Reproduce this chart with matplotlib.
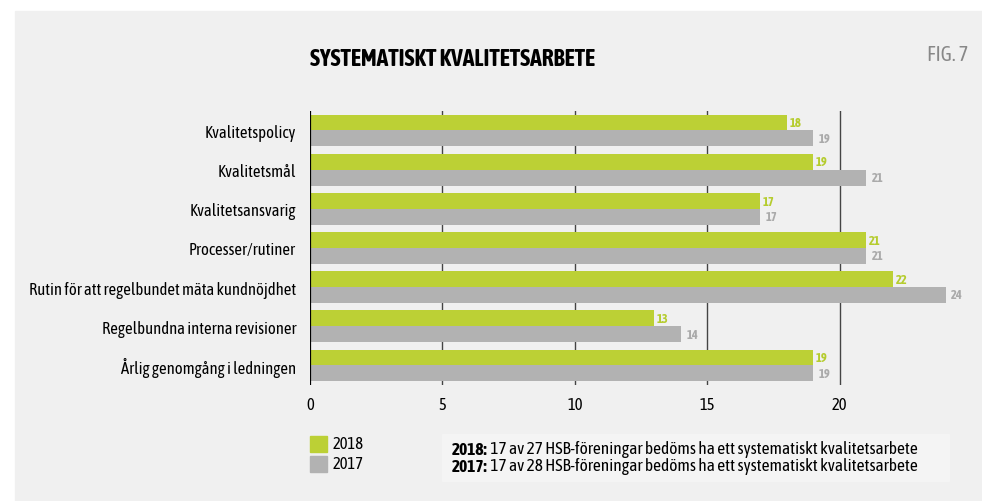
import matplotlib
matplotlib.use("Agg")
import matplotlib.pyplot as plt
from matplotlib.patches import Rectangle
from matplotlib import font_manager
import numpy as np

# data
categories = ["Kvalitetspolicy", "Kvalitetsmål", "Kvalitetsansvarig", "Processer/rutiner",
              "Rutin för att regelbundet mäta kundnöjdhet", "Regelbundna interna revisioner",
              "Årlig genomgång i ledningen"]
v2018 = [18, 19, 17, 21, 22, 13, 19]
v2017 = [19, 21, 17, 21, 24, 14, 19]
xticks = [0, 5, 10, 15, 20]
notes = [("2018:", " 17 av 27 HSB-föreningar bedöms ha ett systematiskt kvalitetsarbete"),
         ("2017:", " 17 av 28 HSB-föreningar bedöms ha ett systematiskt kvalitetsarbete")]

# look for narrow fonts, and whether they come with a bold cut
weights = {}
for f in font_manager.fontManager.ttflist:
    if "Narrow" in f.name or "Condensed" in f.name:
        w = f.weight if isinstance(f.weight, int) else font_manager.weight_dict.get(f.weight, 400)
        weights.setdefault(f.name, set()).add(w)
reg_fam, bold_fam = "Roboto", "Roboto"
for name, ws in weights.items():
    if any(w <= 500 for w in ws):
        reg_fam = name
        if any(w >= 600 for w in ws):
            bold_fam = name
            break
plt.rcParams["font.family"] = [reg_fam, "DejaVu Sans"]
BOLD = dict(family=[bold_fam, "DejaVu Sans"], fontweight="bold")

green = "#bcd035"
gray = "#b2b2b2"
W, H = 982, 502

fig = plt.figure(figsize=(W / 100, H / 100), dpi=100)
fig.patch.set_facecolor("white")
renderer = fig.canvas.get_renderer()


def fit(t, width, maxsize=None):
    # scale fontsize so the text gets the width it has in the reference
    w = t.get_window_extent(renderer).width
    s = t.get_fontsize() * width / w
    if maxsize:
        s = min(s, maxsize)
    t.set_fontsize(s)
    return s


# light panel
fig.add_artist(Rectangle((15 / W, 0), 1, 1 - 12 / H, transform=fig.transFigure,
                         color="#f0f0f0", zorder=-10))

ax = fig.add_axes([310 / W, (H - 386) / H, 641 / W, 274 / H])
ax.set_facecolor("none")
y = np.arange(len(categories))
h = 0.41
ax.barh(y - 0.2, v2018, height=h, color=green, zorder=3)
ax.barh(y + 0.2, v2017, height=h, color=gray, zorder=3)

for i in range(len(categories)):
    ax.annotate(str(v2018[i]), (v2018[i], y[i] - 0.2), xytext=(2, 0), textcoords="offset points",
                va="center", ha="left", fontsize=9, color="#b5cc2e", **BOLD)
    ax.annotate(str(v2017[i]), (v2017[i], y[i] + 0.2), xytext=(4, 0), textcoords="offset points",
                va="center", ha="left", fontsize=9, color="#aaaaaa", **BOLD)

for xv in xticks[1:]:
    ax.axvline(xv, color="#444444", lw=1, zorder=1)
ax.axvline(0, color="black", lw=1.6, zorder=4)

ax.set_xlim(0, 24.2)
ax.set_ylim(len(categories) - 0.5, -0.5)
ax.set_xticks(xticks)
ax.set_xticklabels([str(t) for t in xticks], fontsize=10.5)
ax.set_yticks(y)
ax.set_yticklabels(categories, fontsize=10.5)
ax.tick_params(axis="y", length=0, pad=10)
ax.tick_params(axis="x", length=0, pad=8)
for s in ax.spines.values():
    s.set_visible(False)

# size of category labels from the longest one (267 px wide in reference)
probe = fig.text(0, 0, categories[4], fontsize=10.5)
lab_size = fit(probe, 267, 12.5)
probe.remove()
for t in ax.get_yticklabels():
    t.set_fontsize(lab_size)
for t in ax.get_xticklabels():
    t.set_fontsize(lab_size)

# title
title = fig.text(310 / W, 1 - 60 / H, "SYSTEMATISKT KVALITETSARBETE", fontsize=14,
                 va="center", ha="left", **BOLD)
fit(title, 318, 17)
figno = fig.text(968 / W, 1 - 55 / H, "FIG. 7", fontsize=13, color="#888888",
                 va="center", ha="right")
fit(figno, 64, 15)

# legend
for k, (lab, c) in enumerate([("2018", green), ("2017", gray)]):
    yy = 437 + k * 20
    fig.add_artist(Rectangle((310 / W, 1 - (yy + 16) / H), 17 / W, 16 / H,
                             transform=fig.transFigure, color=c))
    fig.text(333 / W, 1 - (yy + 8) / H, lab, fontsize=lab_size, va="center", ha="left")

# note box
fig.add_artist(Rectangle((442 / W, 1 - 482 / H), 507 / W, 47 / H, transform=fig.transFigure,
                         color="#f4f4f4", zorder=-5))
b0 = fig.text(0, 0, notes[0][0], fontsize=10.5, **BOLD)
r0 = fig.text(0, 0, notes[0][1], fontsize=10.5)
wtot = b0.get_window_extent(renderer).width + r0.get_window_extent(renderer).width
note_size = min(10.5 * 473 / wtot, 12.5)
b0.remove()
r0.remove()
for k, (b, rest) in enumerate(notes):
    t = fig.text(452 / W, 1 - (450 + k * 17) / H, b, fontsize=note_size,
                 va="center", ha="left", **BOLD)
    ax.annotate(rest, xy=(1, 0.5), xycoords=t, va="center", ha="left", fontsize=note_size,
                annotation_clip=False)

fig.savefig("out.png", dpi=100, facecolor=fig.get_facecolor())
